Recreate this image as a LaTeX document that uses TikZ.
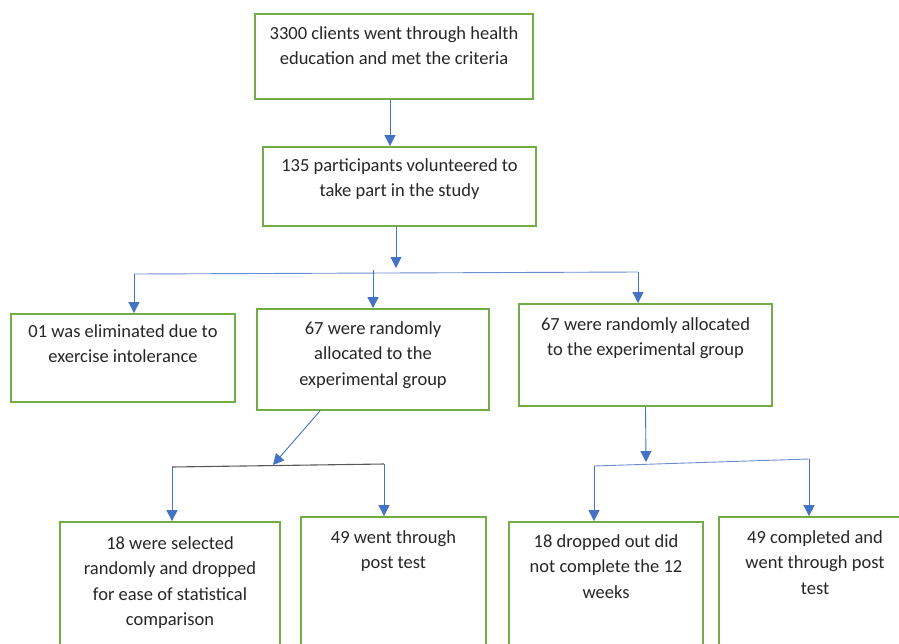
\documentclass[tikz,border=0pt]{standalone}
\usepackage{fontspec}
\setmainfont{Carlito}
\usetikzlibrary{arrows.meta}
\definecolor{boxgreen}{HTML}{70AD47}
\definecolor{arrblue}{HTML}{4472C4}
\definecolor{txt}{HTML}{262626}
\begin{document}
\begin{tikzpicture}[x=1pt,y=-1pt,
  box/.style={draw=boxgreen,line width=1.8pt,inner sep=0pt},
  txtnode/.style={anchor=north,inner sep=0pt,align=center,text=txt,
    font=\fontsize{18.5}{25.5}\selectfont},
  arr/.style={draw=arrblue,line width=0.9pt,-{Triangle[length=11pt,width=11pt]}},
  bar/.style={draw=arrblue!80!white,line width=0.9pt},
  greybar/.style={draw=black!65,line width=1.1pt}]
\useasboundingbox (0,0) rectangle (899,643);
\clip (0,0) rectangle (899,643);
% boxes
\node[box,minimum width=278pt,minimum height=85pt] (b1) at (394,56.5) {};
\node[box,minimum width=273pt,minimum height=79pt] (b2) at (399.5,186.5) {};
\node[box,minimum width=224pt,minimum height=88pt] (b3) at (123,358) {};
\node[box,minimum width=232pt,minimum height=101pt] (b4) at (373,359.5) {};
\node[box,minimum width=253pt,minimum height=102pt] (b5) at (645.5,355) {};
\node[box,minimum width=220pt,minimum height=160pt] (b6) at (170,602) {};
\node[box,minimum width=185pt,minimum height=160pt] (b7) at (393.5,597) {};
\node[box,minimum width=194pt,minimum height=160pt] (b8) at (606,602) {};
\node[box,minimum width=194pt,minimum height=160pt] (b9) at (816,597) {};
% texts
\node[txtnode] (t1) at (394,26) {3300 clients went through health\\education and met the criteria};
\node[txtnode] (t2) at (399.5,158) {135 participants volunteered to\\take part in the study};
\node[txtnode] (t3) at (123,324) {01 was eliminated due to\\exercise intolerance};
\node[txtnode] (t4) at (373,321) {67 were randomly\\allocated to the\\experimental group};
\node[txtnode] (t5) at (645.5,317) {67 were randomly allocated\\to the experimental group};
\node[txtnode] (t6) at (170,536) {18 were selected\\randomly and dropped\\for ease of statistical\\comparison};
\node[txtnode] (t7) at (393.5,530) {49 went through\\post test};
\node[txtnode] (t8) at (606,534) {18 dropped out did\\not complete the 12\\weeks};
\node[txtnode] (t9) at (815,530) {49 completed and\\went through post\\test};
% junction points
\coordinate (jaL) at (134,274);
\coordinate (jaR) at (638,272);
\coordinate (jaM) at (373,270);
\coordinate (tipa) at (396,268);
\coordinate (jbL) at (172,467);
\coordinate (jbR) at (384,464);
\coordinate (tipb) at (273,465);
\coordinate (jcL) at (594,466);
\coordinate (jcR) at (809,459);
\coordinate (tipc) at (646,462);
% connectors
\draw[arr] (b1.south -| 390,0) -- (b2.north -| 390,0);
\draw[arr] (b2.south -| tipa) -- (tipa);
\draw[bar] (jaL) -- (jaR);
\draw[arr] (jaL) -- (b3.north -| jaL);
\draw[arr] (jaM) -- (b4.north -| jaM);
\draw[arr] (jaR) -- (b5.north -| jaR);
\draw[arr] (b4.south -| 320,0) -- (tipb);
\draw[greybar] (jbL) -- (jbR);
\draw[arr] (jbL) -- (b6.north -| jbL);
\draw[arr] (jbR) -- (b7.north -| jbR);
\draw[arr] (b5.south) -- (tipc);
\draw[bar] (jcL) -- (jcR);
\draw[arr] (jcL) -- (b8.north -| jcL);
\draw[arr] (jcR) -- (b9.north -| jcR);
\end{tikzpicture}
\end{document}
